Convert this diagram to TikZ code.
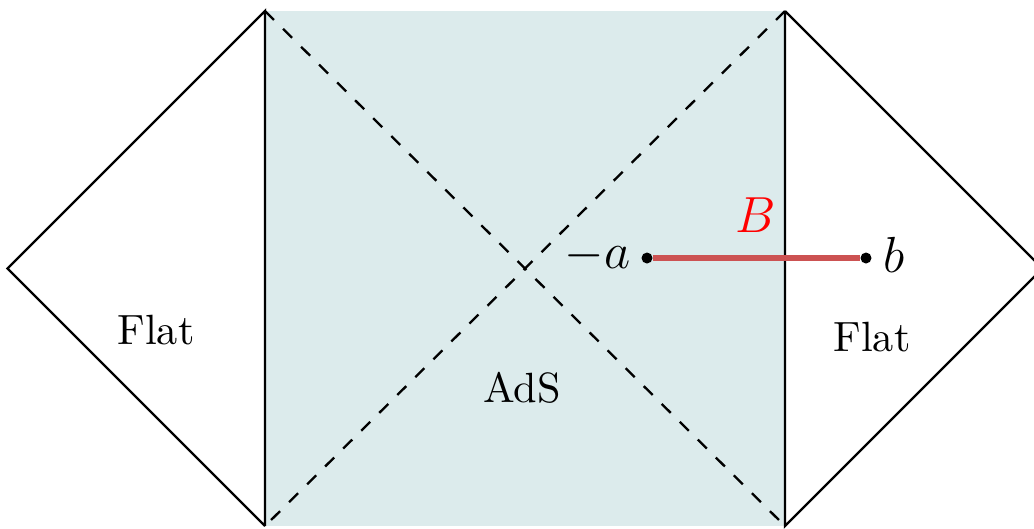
\documentclass[tikz,border=0pt]{standalone}
\begin{document}
\begin{tikzpicture}[x=0.2364pt,y=-0.2364pt,
  edge/.style={line width=0.55pt, line join=miter},
  diagline/.style={line width=0.55pt, dashed},
  lbl/.style={inner sep=0pt, font=\normalsize},
  mlbl/.style={inner sep=0pt, font=\large},
  pt/.style={circle, fill=black, inner sep=0pt, minimum size=2.6pt}]
\definecolor{adsfill}{RGB}{220,235,236}
\definecolor{segred}{RGB}{204,82,82}
\useasboundingbox (0,0) rectangle (1034,528);
\begin{scope}
\clip (0,0) rectangle (1034,528);
\coordinate (TL) at (265,11);
\coordinate (BL) at (265,526);
\coordinate (TR) at (785,11);
\coordinate (BR) at (785,526);
\coordinate (L) at (7.5,268.5);
\coordinate (R) at (1042.5,268.5);
\fill[adsfill] (TL) rectangle (BR);
\draw[diagline] (TL) -- (BR);
\draw[diagline] (TR) -- (BL);
\draw[edge] (BL) -- (L) -- (TL) -- (BL);
\draw[edge] (TR) -- (R) -- (BR) -- (TR);
\end{scope}
\node[pt] (a) at (647,258) {};
\node[pt] (b) at (866,258) {};
\draw[segred, line width=1.5pt] (a) -- (b);
\node[mlbl, anchor=east] (la) at (631,256) {$-a$};
\node[mlbl, anchor=west] (lb) at (883,255) {$b$};
\node[mlbl, text=red] (lB) at (756,215) {$B$};
\node[lbl] (f1) at (156,330) {Flat};
\node[lbl] (f2) at (872,337) {Flat};
\node[lbl] (ads) at (522,388) {AdS};
\end{tikzpicture}
\end{document}
